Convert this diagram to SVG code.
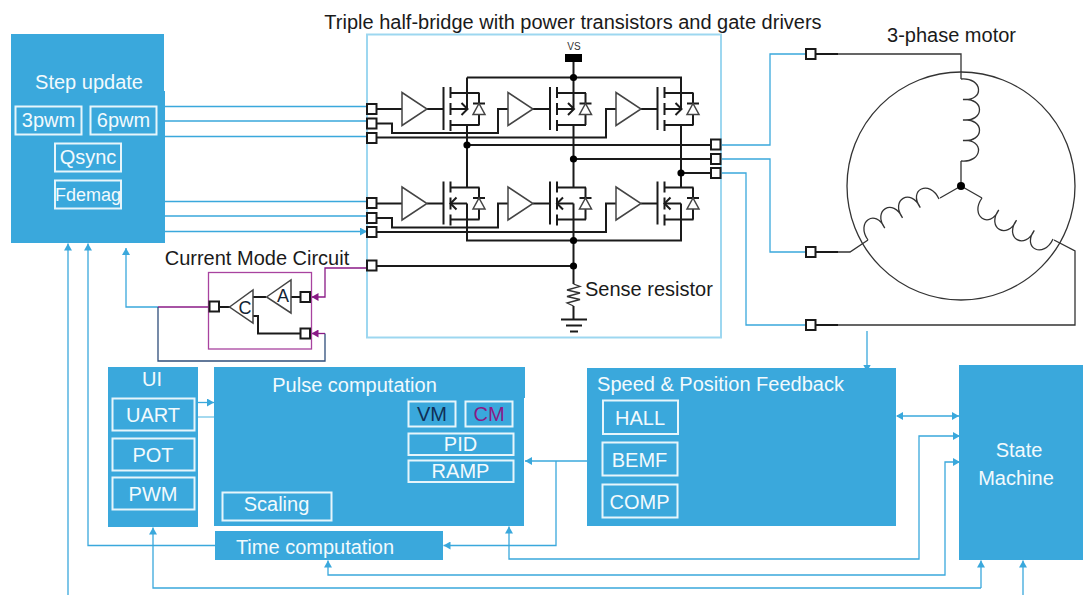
<svg xmlns="http://www.w3.org/2000/svg" width="1083" height="595" viewBox="0 0 1083 595">
<style>
text{font-family:"Liberation Sans",Arial,sans-serif}
.blk{fill:#3aa8dc}
.sub{fill:none;stroke:#e6f5fb;stroke-width:2}
.w{fill:#f2fafd;font-size:20px;text-anchor:middle}
.k{fill:#1a1a1a;font-size:20px}
.wire{fill:none;stroke:#1a1a1a;stroke-width:2}
.thin{fill:none;stroke:#333;stroke-width:1.3}
.port{fill:#fff;stroke:#1a1a1a;stroke-width:2}
.dot{fill:#000}
.tri{fill:#fff;stroke:#444;stroke-width:1.5}
.c{fill:none;stroke:#3aa8dc;stroke-width:1.3}
.cl{fill:none;stroke:#86cdea;stroke-width:1.5}
.a{marker-end:url(#ah)}
.s{marker-start:url(#as)}
.p{fill:none;stroke:#8a1a86;stroke-width:1.3}
</style>
<defs>
<marker id="ah" markerUnits="userSpaceOnUse" markerWidth="8" markerHeight="8" refX="7" refY="4" orient="auto"><path d="M0,0 L7,4 L0,8 Z" fill="#3aa8dc"/></marker>
<marker id="as" markerUnits="userSpaceOnUse" markerWidth="8" markerHeight="8" refX="1" refY="4" orient="auto"><path d="M7,0 L0,4 L7,8 Z" fill="#3aa8dc"/></marker>
<marker id="ap" markerUnits="userSpaceOnUse" markerWidth="8" markerHeight="8" refX="7" refY="4" orient="auto"><path d="M0,0 L7,4 L0,8 Z" fill="#8a1a86"/></marker>
<g id="fetbase">
<path class="wire" d="M0,-22V21M7,-22V-11M7,-6V6M7,11V22M7,-16H36M7,16H36M7,0H23.5"/>
<path class="wire" d="M35.5,-16V16M29.5,-5.5H41.5" stroke-width="1.6"/>
<path class="tri" d="M35.5,-5.5L29.5,5.5H41.5Z"/>
</g>
<g id="fetu"><use href="#fetbase"/><path class="wire" d="M18,-6L24,0L18,6M23.5,-16V0"/></g>
<g id="fetl"><use href="#fetbase"/><path class="wire" d="M13,-6L7,0L13,6M23.5,0V16"/></g>
<path id="buf" class="tri" d="M0,-16.5V16.5L25,0Z"/>
<rect id="pt" class="port" width="9.5" height="10"/>
<path id="coil" class="thin" d="M0,0C-2,-22 22.5,-24 20.5,-2C18.5,-24 43,-24 41,-2C39,-24 63.5,-24 61.5,-2C59.500,-24 84,-22 82,0"/>
</defs>

<g id="connectors">
<path class="c a" d="M165,106.5H367M165,121H367M165,136.5H367M165,201.5H367M165,216H367M165,231.5H367"/>
<path class="c" d="M721,145H770V54H806M721,159H770V252H806M721,173H746V325H806"/>
<path class="c a" d="M867,331V371.5"/>
<path class="c a" d="M68,595V243.5"/>
<path class="c a" d="M215,545.5H88V243.5"/>
<path class="c a" d="M158,307H126V248"/>
<path class="p" d="M208,307H158"/>
<path fill="none" stroke="#2f4d7a" stroke-width="1.3" d="M158,307V361H325V333.5"/>
<path class="p" marker-end="url(#ap)" d="M367,268H325V297H311.5"/>
<path class="p" marker-end="url(#ap)" d="M325,333.5H311.5"/>
<path class="c a" d="M198,402.5H214"/>
<path class="cl" d="M198,417H214"/>
<path class="c a s" d="M897,416H959"/>
<path class="c a s" d="M959,436H919V559H509V526.5"/>
<path class="c a" d="M587,461H525"/>
<path class="c a" d="M556,461V545.5H443.5"/>
<path class="c a s" d="M959,462H945V575H328V560.5"/>
<path class="c a" d="M981,588H153V527.5"/>
<path class="c a" d="M981,588V560.5"/>
<path class="c a" d="M1023,595V560.5"/>
</g>

<g id="step-update">
<path class="blk" d="M11,34H164V91H165V243H11Z"/>
<text class="w" x="89" y="89">Step update</text>
<rect class="sub" x="15.500" y="106.500" width="66" height="28"/><text class="w" x="48.500" y="127">3pwm</text>
<rect class="sub" x="90.500" y="106.500" width="66" height="28"/><text class="w" x="123.500" y="127">6pwm</text>
<rect class="sub" x="55" y="143.500" width="66" height="28"/><text class="w" x="88" y="164">Qsync</text>
<rect class="sub" x="55" y="180.500" width="66" height="28"/><text class="w" x="88" y="201" style="font-size:18px">Fdemag</text>
</g>

<g id="half-bridge">
<text class="k" x="573" y="29" text-anchor="middle">Triple half-bridge with power transistors and gate drivers</text>
<rect x="367" y="34.500" width="354" height="303" fill="none" stroke="#9dd7f0" stroke-width="2"/>
<text x="574" y="50" text-anchor="middle" font-size="10" fill="#333">VS</text>
<rect x="565" y="54" width="17" height="8" fill="#000"/>
<path class="wire" d="M573.500,62V93M467,77.500H681V93M467,77.500V93M467,125V187.500M573.500,125V187.500M681,125V187.500M467,219.500V240.500H681V219.500M573.500,219.500V284M376,109H402M427,109H443.500M533,109H550M641,109H657.500M376,203.500H402M427,203.500H443.500M533,203.500H550M641,203.500H657.500"/>
<path class="wire" d="M376,123.500H392V133H498V109H508M376,137.500H606V109H616M467,145H711M573.500,159H711M681,173H711M376,218H392V227.500H498V203.500H508M376,232H606V203.500H616M376,266H573.500"/>
<use href="#buf" x="402" y="109"/><use href="#buf" x="508" y="109"/><use href="#buf" x="616" y="109"/>
<use href="#buf" x="402" y="203.500"/><use href="#buf" x="508" y="203.500"/><use href="#buf" x="616" y="203.500"/>
<use href="#fetu" x="443.500" y="109"/><use href="#fetu" x="550" y="109"/><use href="#fetu" x="657.500" y="109"/>
<use href="#fetl" x="443.500" y="203.500"/><use href="#fetl" x="550" y="203.500"/><use href="#fetl" x="657.500" y="203.500"/>
<circle class="dot" cx="573.500" cy="77.500" r="3.600"/><circle class="dot" cx="467" cy="145" r="3.600"/><circle class="dot" cx="573.500" cy="159" r="3.600"/><circle class="dot" cx="681" cy="173" r="3.600"/><circle class="dot" cx="573.500" cy="240.500" r="3.600"/><circle class="dot" cx="573.500" cy="266" r="3.600"/>
<path class="thin" d="M573.500,284L580,286.500L567,290L580,293L567,296.500L580,299.500L567,303L573.500,306"/>
<path class="wire" d="M573.500,306V319M561,319.500H587M566,325.500H582M570,331.500H578"/>
<text class="k" x="585" y="296">Sense resistor</text>
<use href="#pt" x="367" y="104"/><use href="#pt" x="367" y="118.500"/><use href="#pt" x="367" y="133"/>
<use href="#pt" x="367" y="198"/><use href="#pt" x="367" y="213"/><use href="#pt" x="367" y="227"/>
<use href="#pt" x="367" y="260.500"/>
<use href="#pt" x="711" y="139.500"/><use href="#pt" x="711" y="154"/><use href="#pt" x="711" y="168"/>
</g>

<g id="motor">
<text class="k" x="951.500" y="42" text-anchor="middle">3-phase motor</text>
<circle cx="961" cy="186" r="114" class="thin"/>
<path class="wire" d="M815,54H838M815,252H838M815,325H838"/>
<path class="thin" d="M838,54H961V79M961,161V186M961,186L982,198M961,186L940,198M868,240L850,252H838M1054,240L1075,251V325H838"/>
<use href="#coil" transform="translate(961,79) rotate(90)"/>
<use href="#coil" transform="translate(868,240) rotate(-30)"/>
<use href="#coil" transform="translate(982,198) rotate(30) scale(1,-1)"/>
<circle class="dot" cx="961" cy="186" r="4"/>
<use href="#pt" x="806" y="49"/><use href="#pt" x="806" y="247"/><use href="#pt" x="806" y="320"/>
</g>

<g id="current-mode">
<text class="k" x="257" y="265" text-anchor="middle">Current Mode Circuit</text>
<rect x="208.500" y="272.500" width="103" height="76.500" fill="none" stroke="#a8439f" stroke-width="1.300"/>
<path class="wire" d="M219,307H230M253,297H266M291,297H300M253,316H258V333.500H300"/>
<path class="tri" d="M229.500,307L253,290V323Z"/>
<path class="tri" d="M266.500,297L291,280V313Z"/>
<text x="245" y="313.500" text-anchor="middle" font-size="18" fill="#123">C</text>
<text x="283" y="301.500" text-anchor="middle" font-size="18" fill="#123">A</text>
<use href="#pt" x="209.500" y="301.500"/><use href="#pt" x="300.500" y="292"/><use href="#pt" x="300.500" y="328.500"/>
</g>

<g id="ui">
<rect class="blk" x="108" y="367" width="90" height="160"/>
<text class="w" x="152" y="386">UI</text>
<rect class="sub" x="112.500" y="398.500" width="82" height="32"/><text class="w" x="153" y="422">UART</text>
<rect class="sub" x="112.500" y="438.500" width="82" height="32"/><text class="w" x="153" y="462">POT</text>
<rect class="sub" x="112.500" y="477.500" width="82" height="32"/><text class="w" x="153" y="501">PWM</text>
</g>

<g id="pulse-computation">
<path class="blk" d="M214,367H525V398H524V526H214Z"/>
<text class="w" x="354.500" y="392">Pulse computation</text>
<rect class="sub" x="408.500" y="401.500" width="47" height="25"/><text x="432" y="421" text-anchor="middle" font-size="20" fill="#0f2f57">VM</text>
<rect class="sub" x="465.500" y="401.500" width="47" height="25"/><text x="489" y="421" text-anchor="middle" font-size="20" fill="#8a1a86">CM</text>
<rect class="sub" x="408.500" y="433.500" width="105" height="21.500"/><text class="w" x="460.500" y="451">PID</text>
<rect class="sub" x="408.500" y="460.500" width="105" height="21.500"/><text class="w" x="460.500" y="478">RAMP</text>
<rect class="sub" x="222.500" y="492.500" width="109" height="28"/><text class="w" x="276.500" y="511">Scaling</text>
</g>

<g id="time-computation">
<rect class="blk" x="215" y="531" width="228" height="29"/>
<text class="w" x="315" y="554">Time computation</text>
</g>

<g id="speed-feedback">
<rect class="blk" x="587" y="368" width="309" height="158"/>
<text class="w" x="720.500" y="391">Speed &amp; Position Feedback</text>
<rect class="sub" x="603" y="400.500" width="75" height="33.500"/><text class="w" x="640" y="425">HALL</text>
<rect class="sub" x="602.500" y="442.500" width="75" height="33"/><text class="w" x="639.500" y="467">BEMF</text>
<rect class="sub" x="602.500" y="484.500" width="75" height="33"/><text class="w" x="639.500" y="509">COMP</text>
</g>

<g id="state-machine">
<rect class="blk" x="959" y="365" width="124" height="195"/>
<text class="w" x="1019" y="457">State</text>
<text class="w" x="1016" y="485">Machine</text>
</g>
</svg>
